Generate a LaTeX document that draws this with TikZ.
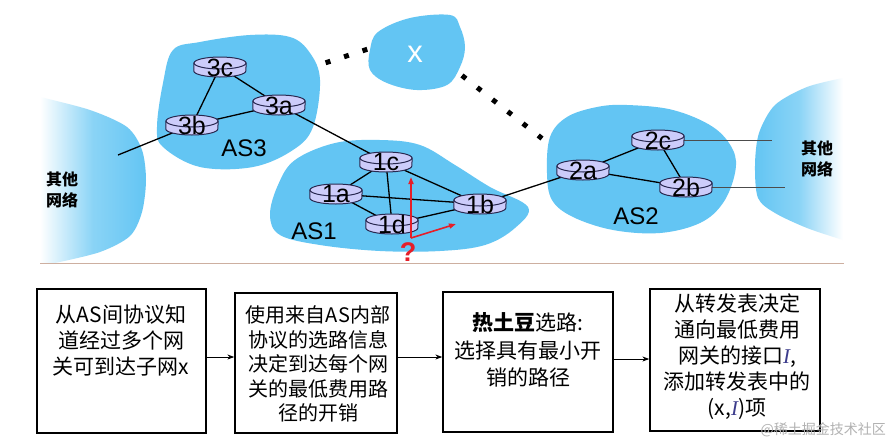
\documentclass[tikz,border=0pt]{standalone}
\usepackage{fontspec}
\setmainfont{Liberation Sans}
\newfontfamily\cjk{Noto Sans CJK SC}
\newfontfamily\tms{Liberation Serif}
\usetikzlibrary{arrows.meta}
\definecolor{cloudblue}{RGB}{99,197,243}
\definecolor{routerfill}{RGB}{204,204,250}
\definecolor{routerline}{RGB}{40,40,80}
\definecolor{rulecol}{RGB}{205,175,160}
\definecolor{ired}{RGB}{230,30,40}
\definecolor{iblue}{RGB}{60,60,140}
\newcommand\drawrouter[2]{%
  \filldraw[rbody] ([yshift=4pt]#1.west) -- ([yshift=-4pt]#1.west)
    arc[start angle=180,end angle=360,x radius=26pt,y radius=6pt]
    -- ([yshift=4pt]#1.east) -- cycle;
  \filldraw[rbody] ([yshift=4pt]#1.center) ellipse[x radius=26pt,y radius=6pt];
  \node[rlabel] at ([yshift=-0.5pt]#1.center) {#2};
}
\begin{document}
\begin{tikzpicture}[x=1pt,y=-1pt,
  rnode/.style={minimum width=52pt,minimum height=20pt,inner sep=0pt},
  rbody/.style={fill=routerfill,draw=routerline,line width=1pt},
  rlabel/.style={font=\fontsize{25}{25}\selectfont,inner sep=0pt},
  link/.style={black,line width=1.3pt},
  glink/.style={black!70,line width=1pt},
  dotline/.style={line width=5pt,dash pattern=on 5pt off 14.4pt},
  redarr/.style={ired,line width=1.6pt,-{Triangle[length=7pt,width=5pt]}},
  aslabel/.style={font=\fontsize{24}{24}\selectfont,inner sep=0pt},
  netlabel/.style={font=\cjk\bfseries\fontsize{16}{21}\selectfont,align=center,inner sep=0pt},
  stepbox/.style={draw,line width=1.3pt,inner sep=0pt},
  boxtext/.style={font=\cjk\fontsize{21}{26}\selectfont,align=center,inner sep=0pt},
  arr/.style={line width=1pt,-{Stealth[length=7pt,width=5pt]}}
]
\useasboundingbox (0,0) rectangle (892,440);
\fill[white] (0,0) rectangle (892,440);

% other networks (gradient clouds)
\shade[left color=white,right color=cloudblue,middle color=cloudblue!75]
  plot[smooth] coordinates {(40,97) (90,110) (127,127) (142,150) (146,180) (142,212) (130,236) (100,252) (55,263)}
  -- (40,263) -- cycle;
\shade[left color=cloudblue,right color=white,middle color=cloudblue!75]
  plot[smooth] coordinates {(843,78) (807,87) (775,105) (759,133) (755,165) (758,198) (775,213) (807,228) (843,240)}
  -- cycle;

% AS clouds
\fill[cloudblue] plot[smooth cycle,tension=0.6] coordinates
  {(173,50) (200,42) (250,35) (290,37) (310,53) (320,80) (313,127) (293,150) (253,167) (200,167) (163,147) (157,127) (163,83)};
\fill[cloudblue] plot[smooth cycle,tension=0.6] coordinates
  {(378,32) (410,18) (450,15) (460,27) (465,47) (460,67) (447,85) (417,90) (387,83) (370,70) (370,50)};
\fill[cloudblue] plot[smooth cycle,tension=0.6] coordinates
  {(270,215) (278,185) (295,160) (335,143) (380,140) (420,145) (455,165) (490,187) (528,207) (515,228) (485,245) (440,251) (380,251) (320,245) (280,235)};
\fill[cloudblue] plot[smooth cycle,tension=0.6] coordinates
  {(550,137) (567,117) (597,107) (627,105) (673,110) (713,127) (733,150) (735,173) (723,203) (700,223) (660,233) (613,230) (573,217) (552,200) (547,173)};

\node[font=\fontsize{31}{31}\selectfont,text=white,inner sep=0pt] (xlab) at (415,54) {x};

% separator line
\draw[rulecol,line width=1pt] (40,263) -- (844,263);

% router positions
\node[rnode] (r3c) at (220,67) {};
\node[rnode] (r3a) at (279,105) {};
\node[rnode] (r3b) at (192,125) {};
\node[rnode] (r1c) at (386,162) {};
\node[rnode] (r1a) at (336,194) {};
\node[rnode] (r1d) at (392,224) {};
\node[rnode] (r1b) at (480,204) {};
\node[rnode] (r2a) at (583,170) {};
\node[rnode] (r2c) at (658,140) {};
\node[rnode] (r2b) at (686,187) {};
\coordinate (lnet) at (118,155);
\coordinate (rnetA) at (772,140);
\coordinate (rnetB) at (785,187);

% links
\draw[link] (r3c.center) -- (r3b.center);
\draw[link] (r3c.center) -- (r3a.center);
\draw[link] (r3a.center) -- (r3b.center);
\draw[link] (r3b.center) -- (lnet);
\draw[link] (r3a.center) -- (r1c.center);
\draw[link] (r1c.center) -- (r1a.center);
\draw[link] (r1c.center) -- (r1d.center);
\draw[link] (r1c.center) -- (r1b.center);
\draw[link] (r1a.center) -- (r1b.center);
\draw[link] (r1a.center) -- (r1d.center);
\draw[link] (r1d.center) -- (r1b.center);
\draw[link] (r1b.center) -- (r2a.center);
\draw[link] (r2a.center) -- (r2c.center);
\draw[link] (r2a.center) -- (r2b.center);
\draw[link] (r2c.center) -- (r2b.center);
\draw[glink] (r2c.center) -- (rnetA);
\draw[glink] (r2b.center) -- (rnetB);

% dotted links
\coordinate (d1s) at (325.6,62.8);
\coordinate (d1e) at (367.4,49.2);
\coordinate (d2s) at (462,75.5);
\coordinate (d2e) at (542,138.5);
\draw[dotline] (d1s) -- (d1e);
\draw[dotline] (d2s) -- (d2e);

% routers
\drawrouter{r3c}{3c}
\drawrouter{r3a}{3a}
\drawrouter{r3b}{3b}
\drawrouter{r1c}{1c}
\drawrouter{r1a}{1a}
\drawrouter{r1d}{1d}
\drawrouter{r1b}{1b}
\drawrouter{r2a}{2a}
\drawrouter{r2c}{2c}
\drawrouter{r2b}{2b}

% AS labels
\node[aslabel] (as3) at (244,148) {AS3};
\node[aslabel] (as1) at (314,231) {AS1};
\node[aslabel] (as2) at (636,216) {AS2};
\node[netlabel] (lnl) at (62,190) {其他\\网络};
\node[netlabel] (rnl) at (817,159) {其他\\网络};

% red arrows
\coordinate (q0) at (411,238);
\coordinate (qa) at (411,177);
\coordinate (qb) at (456,224);
\draw[redarr] (q0) -- (qa);
\draw[redarr] (q0) -- (qb);
\node[font=\bfseries\fontsize{27}{27}\selectfont,text=ired,inner sep=0pt] (qm) at (408,252) {?};

% bottom boxes
\node[stepbox,minimum width=169pt,minimum height=144pt] (b1) at (121.5,361) {};
\node[stepbox,minimum width=162pt,minimum height=140pt] (b2) at (316,363) {};
\node[stepbox,minimum width=170pt,minimum height=140pt] (b3) at (528,362) {};
\node[stepbox,minimum width=170pt,minimum height=142pt] (b4) at (735,360) {};

\node[boxtext] (t1) at (121,341) {从AS间协议知\\道经过多个网\\关可到达子网x};
\node[boxtext,font=\cjk\fontsize{20}{24.5}\selectfont] (t2) at (318,364) {使用来自AS内部\\协议的选路信息\\决定到达每个网\\关的最低费用路\\径的开销};
\node[boxtext,font=\cjk\fontsize{21}{27.5}\selectfont] (t3) at (528,350) {\textbf{热土豆}选路:\\选择具有最小开\\销的路径};
\node[boxtext] (t4) at (737,357) {从转发表决定\\通向最低费用\\网关的接口{\tms\itshape\color{iblue}I},\\添加转发表中的\\(x,{\tms\itshape\color{iblue}I})项};

\draw[arr] ([yshift=4pt]b1.east) -- ([yshift=6pt]b2.west);
\draw[arr] ([yshift=6pt]b2.east) -- ([yshift=5pt]b3.west);
\draw[arr] ([yshift=3pt]b3.east) -- ([yshift=1pt]b4.west);

\node[font=\cjk\fontsize{14}{14}\selectfont,text=black!30,inner sep=0pt,anchor=east] (wm) at (886,430) {@稀土掘金技术社区};
\end{tikzpicture}
\end{document}
